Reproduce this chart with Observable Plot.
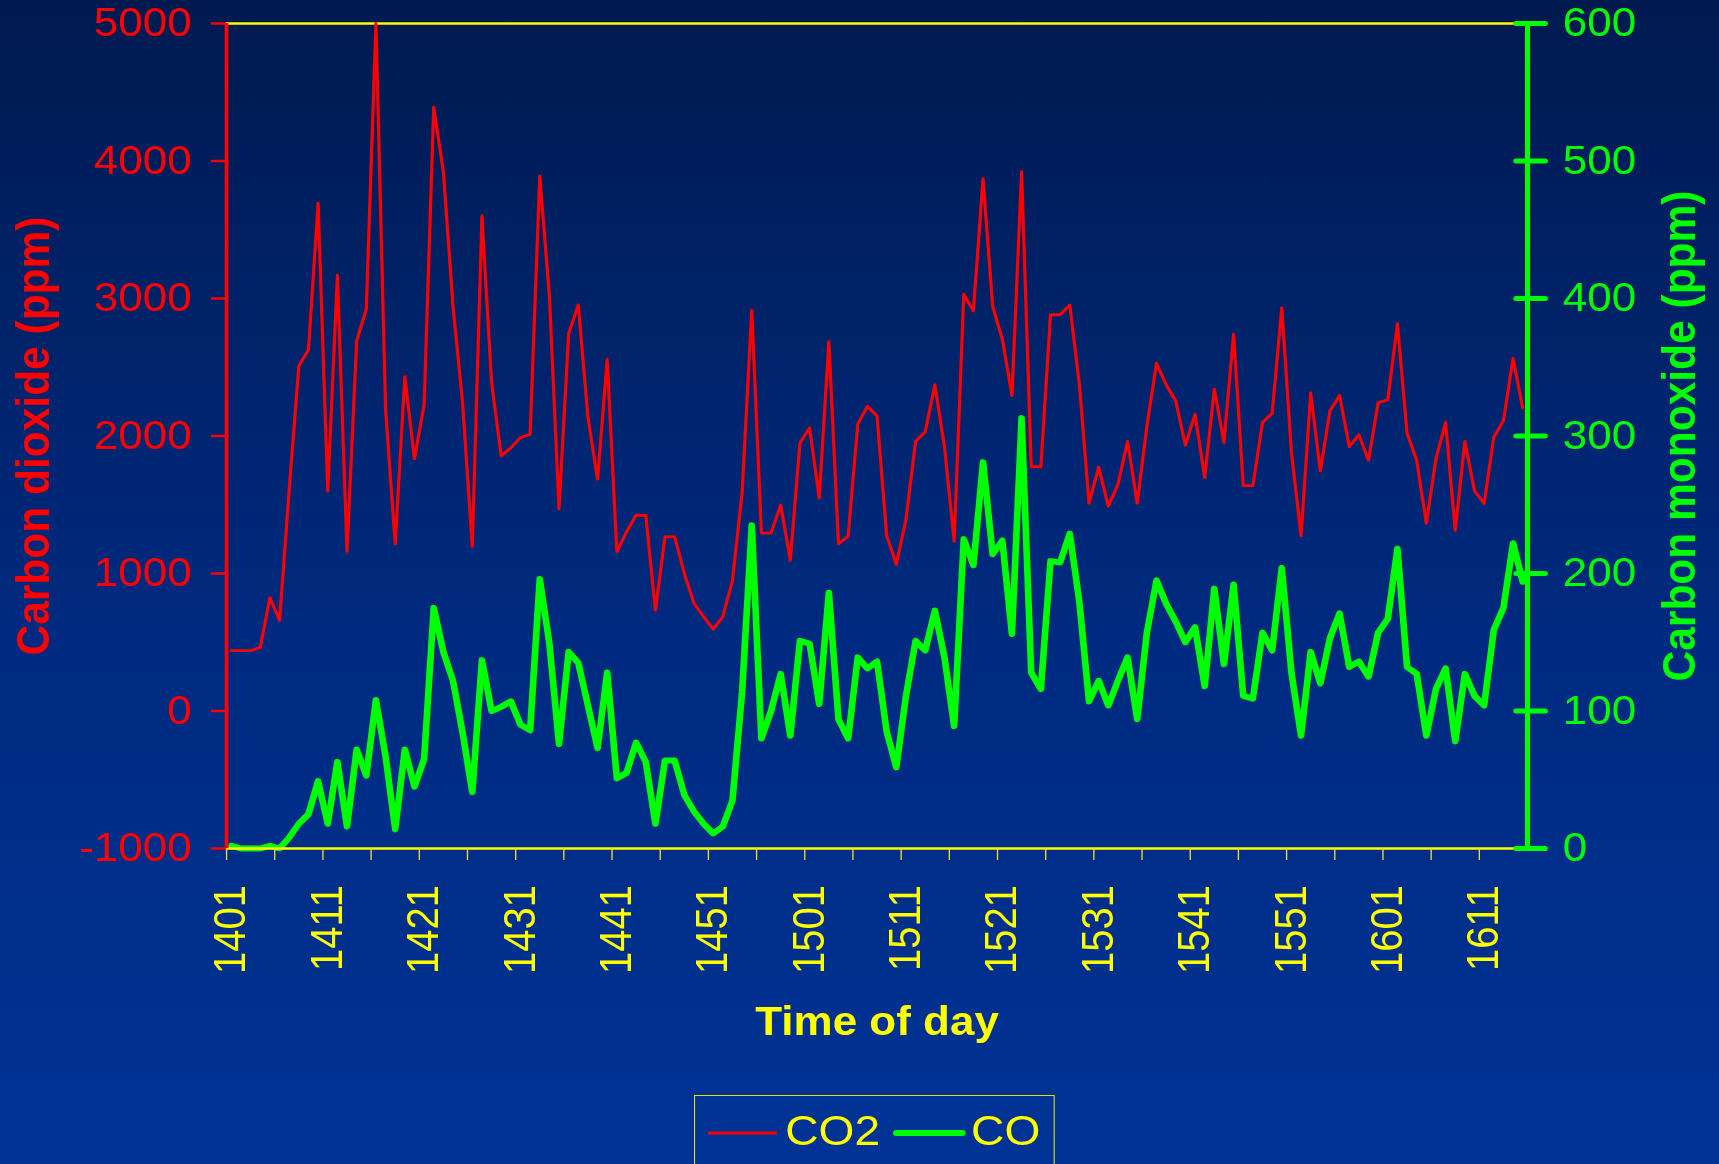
<!DOCTYPE html>
<html>
<head>
<meta charset="utf-8">
<script src="https://cdn.jsdelivr.net/npm/d3@7"></script>
<script src="https://cdn.jsdelivr.net/npm/@observablehq/plot@0.6"></script>
<style>
  html, body { margin: 0; padding: 0; }
  body {
    width: 1719px; height: 1164px; overflow: hidden; position: relative;
    background: linear-gradient(to bottom, #001a50 0%, #002a80 55%, #003396 100%);
    font-family: "Liberation Sans", Arial, sans-serif;
  }
  #wrap { position: absolute; left: 0; top: 0; width: 1563px; height: 1164px; transform-origin: 0 0; }
  #legend { position: absolute; left: 631px; top: 1095px; width: 328px; height: 100px;
            border: 1.5px solid #e0e000; box-sizing: border-box; }
</style>
</head>
<body>
<div id="wrap"><div id="chart"></div><div id="legend"></div></div>
<script>
// ---- data ----
const categories = [
  1401,1402,1403,1404,1405,1406,1407,1408,1409,1410,
  1411,1412,1413,1414,1415,1416,1417,1418,1419,1420,
  1421,1422,1423,1424,1425,1426,1427,1428,1429,1430,
  1431,1432,1433,1434,1435,1436,1437,1438,1439,1440,
  1441,1442,1443,1444,1445,1446,1447,1448,1449,1450,
  1451,1452,1453,1454,1455,1456,1457,1458,1459,1500,
  1501,1502,1503,1504,1505,1506,1507,1508,1509,1510,
  1511,1512,1513,1514,1515,1516,1517,1518,1519,1520,
  1521,1522,1523,1524,1525,1526,1527,1528,1529,1530,
  1531,1532,1533,1534,1535,1536,1537,1538,1539,1540,
  1541,1542,1543,1544,1545,1546,1547,1548,1549,1550,
  1551,1552,1553,1554,1555,1556,1557,1558,1559,1600,
  1601,1602,1603,1604,1605,1606,1607,1608,1609,1610,
  1611,1612,1613,1614,1615
];
const co2 = [
  439,439,439,463,824,659,1608,2510,2627,3694,
  1600,3169,1161,2690,2922,5000,2196,1216,2431,1835,
  2227,4392,3922,2941,2235,1196,3600,2392,1855,1914,
  1988,2012,3890,3020,1471,2745,2953,2137,1686,2557,
  1157,1302,1424,1424,733,1267,1267,1000,784,686,
  596,686,949,1588,2914,1294,1294,1498,1098,1949,
  2059,1549,2686,1216,1271,2086,2216,2145,1275,1067,
  1392,1961,2031,2373,1922,1235,3031,2910,3871,2941,
  2706,2294,3922,1776,1776,2882,2882,2953,2373,1510,
  1773,1490,1647,1961,1510,2071,2529,2373,2255,1933,
  2157,1698,2341,1953,2741,1639,1639,2098,2165,2933,
  1882,1275,2314,1745,2184,2294,1922,2008,1824,2243,
  2263,2816,2020,1824,1365,1835,2098,1314,1961,1600,
  1510,1992,2110,2565,2204
];
const co = [
  2,0,0,0,2,0,8,18,25,49,
  18,63,16,72,53,108,67,14,72,45,
  65,175,143,122,84,41,137,100,103,107,
  90,86,196,149,76,143,135,104,73,128,
  51,55,77,63,18,64,64,39,27,18,
  11,16,35,114,235,80,100,127,82,151,
  149,105,186,94,80,139,131,136,85,59,
  111,151,144,173,139,89,225,206,281,214,
  224,156,313,128,116,209,208,229,179,107,
  122,104,122,139,94,157,195,178,165,150,
  161,118,189,134,192,111,109,157,144,204,
  128,82,143,120,153,171,132,136,125,157,
  167,218,132,127,82,116,131,78,127,111,
  104,159,175,222,194
];
const tickLabels = [1401,1411,1421,1431,1441,1451,1501,1511,1521,1531,1541,1551,1601,1611];
const co2Ticks = [-1000,0,1000,2000,3000,4000,5000];
const coTicks = [0,100,200,300,400,500,600];
const seriesNames = ["CO2","CO"];

// ---- layout ----
const FULL_W = 1719, W = 1563, S = FULL_W / W;   // original picture is stretched horizontally
document.getElementById("wrap").style.transform = `scaleX(${S})`;

const rows = categories.map((t, i) => ({t, i, co2: co2[i], co: co[i]}));
const coToY = v => -1000 + v * 10;   // secondary axis mapped onto primary
const boundaryTicks = categories.map((c, i) => i).filter(i => i % 5 === 0);
const RED = "#ff0000", GREEN = "#00ff00", YELLOW = "#ffff00";

const chart = Plot.plot({
  width: W, height: 1080,
  marginLeft: 205.5, marginRight: 174.6, marginTop: 23, marginBottom: 232,
  x: {type: "linear", domain: [0, categories.length], axis: null},
  y: {domain: [-1000, 5000], axis: null},
  style: {background: "transparent", overflow: "visible", fontFamily: "'Liberation Sans', Arial, sans-serif"},
  marks: [
    Plot.ruleY([5000], {stroke: YELLOW, strokeWidth: 2.5}),
    Plot.lineY(rows, {x: d => d.i + 0.5, y: "co2", stroke: RED, strokeWidth: 2.9, strokeLinejoin: "round"}),
    Plot.lineY(rows, {x: d => d.i + 0.5, y: d => coToY(d.co), stroke: GREEN, strokeWidth: 6, strokeLinejoin: "round", strokeLinecap: "round"}),
    Plot.ruleY([-1000], {stroke: YELLOW, strokeWidth: 2.5}),
    // x ticks every 5 categories (at category boundaries)
    Plot.axisX({anchor: "bottom", ticks: boundaryTicks, tickSize: 12, stroke: "#e8e820", strokeWidth: 1.2, fill: "none", tickFormat: () => "", label: null}),
    // x labels every 10 categories
    Plot.axisX({anchor: "bottom", ticks: tickLabels.map(t => categories.indexOf(t) + 0.5),
      tickFormat: v => String(categories[Math.round(v - 0.5)]), tickSize: 0, tickPadding: 36.5, tickRotate: -90,
      fill: YELLOW, stroke: "none", fontSize: 40, label: null}),
    // left axis
    Plot.ruleX([0], {stroke: RED, strokeWidth: 3.4}),
    Plot.axisY({anchor: "left", ticks: co2Ticks, tickFormat: d => String(d), tickSize: 13.7, tickPadding: 18,
      color: RED, strokeWidth: 2.5, fontSize: 40, label: null}),
    // right axis
    Plot.ruleX([categories.length], {stroke: GREEN, strokeWidth: 4.6}),
    Plot.axisY({anchor: "right", ticks: coTicks.map(coToY), tickSize: 26.4, dx: -10.9,
      stroke: GREEN, strokeWidth: 5, strokeLinecap: "round", fill: "none", tickFormat: () => "", label: null}),
    Plot.axisY({anchor: "right", ticks: coTicks.map(coToY), tickFormat: v => String(Math.round((v + 1000) / 10)),
      tickSize: 0, tickPadding: 32, fill: GREEN, stroke: "none", fontSize: 40, label: null}),
    // titles
    Plot.text(["Carbon dioxide (ppm)"], {frameAnchor: "left", dx: -175.5, rotate: -90, fill: RED,
      fontSize: 42.5, fontWeight: "bold", textAnchor: "middle", lineAnchor: "middle"}),
    Plot.text(["Carbon monoxide (ppm)"], {frameAnchor: "right", dx: 139, rotate: -90, fill: GREEN,
      fontSize: 42.5, fontWeight: "bold", textAnchor: "middle", lineAnchor: "middle"}),
    Plot.text(["Time of day"], {frameAnchor: "bottom", dy: 174, fill: YELLOW,
      fontSize: 40, fontWeight: "bold", textAnchor: "middle", lineAnchor: "middle"})
  ]
});
document.getElementById("chart").appendChild(chart);

// ---- legend ----
const lg = d3.select("#legend").append("svg").attr("width", 326).attr("height", 98)
  .style("display", "block").style("font-family", "'Liberation Sans', Arial, sans-serif");
const legendItems = [
  {name: seriesNames[0], color: RED, width: 3, x0: 13, x1: 73, tx: 82},
  {name: seriesNames[1], color: GREEN, width: 6, x0: 183, x1: 243, tx: 251}
];
legendItems.forEach(it => {
  lg.append("line").attr("x1", it.x0).attr("x2", it.x1).attr("y1", 37).attr("y2", 37)
    .attr("stroke", it.color).attr("stroke-width", it.width).attr("stroke-linecap", "round");
  lg.append("text").attr("x", it.tx).attr("y", 49).attr("fill", YELLOW).attr("font-size", 42).text(it.name);
});
</script>
</body>
</html>
